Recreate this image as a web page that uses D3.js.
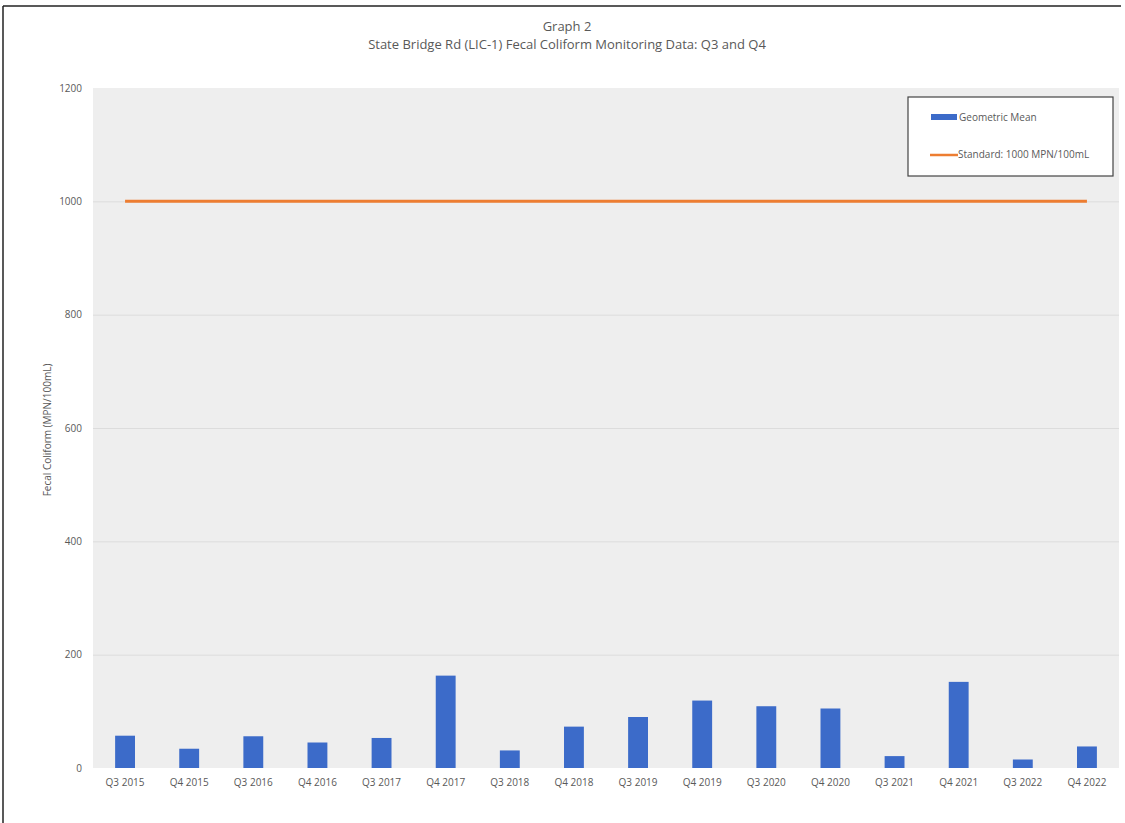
<!DOCTYPE html>
<html>
<head>
<meta charset="utf-8">
<script src="https://cdn.jsdelivr.net/npm/d3@7"></script>
<style>
  body { margin: 0; background: #fff; }
  text { font-family: "Open Sans", "Noto Sans", sans-serif; fill: #595959; }
</style>
</head>
<body>
<svg id="chart"></svg>
<script>
// Chart data
const quarters = ["Q3 2015", "Q4 2015", "Q3 2016", "Q4 2016", "Q3 2017", "Q4 2017", "Q3 2018", "Q4 2018",
                  "Q3 2019", "Q4 2019", "Q3 2020", "Q4 2020", "Q3 2021", "Q4 2021", "Q3 2022", "Q4 2022"];
const geometric_mean = [57, 34, 56, 45, 53, 163, 31, 73, 90, 119, 109, 105, 21, 152, 15, 38];
const standard_value = 1000;
const y_ticks = [0, 200, 400, 600, 800, 1000, 1200];

const width = 1125, height = 823;
const margins = { top: 88, right: 6, bottom: 55, left: 93 };

const svg = d3.select("#chart")
    .attr("width", width)
    .attr("height", height);

// Outer frame (top and left edges visible)
svg.append("line").attr("x1", 3).attr("x2", 1121).attr("y1", 6).attr("y2", 6)
    .style("stroke", "#222").style("stroke-width", 1.5);
svg.append("line").attr("x1", 3).attr("x2", 3).attr("y1", 6).attr("y2", height)
    .style("stroke", "#222").style("stroke-width", 1.5);

// Scales
const x_scale = d3.scaleBand()
    .domain(quarters)
    .range([margins.left, width - margins.right])
    .paddingInner(0.69)
    .paddingOuter(0.345);
const y_scale = d3.scaleLinear()
    .domain([0, 1200])
    .range([height - margins.bottom, margins.top]);

// Plot area background
svg.append("rect")
    .attr("x", margins.left)
    .attr("y", y_scale(1200))
    .attr("width", width - margins.right - margins.left)
    .attr("height", y_scale(0) - y_scale(1200))
    .style("fill", "#eeeeee");

// Gridlines
svg.append("g")
    .attr("transform", `translate(${margins.left}, 0)`)
    .call(d3.axisLeft(y_scale).tickValues(y_ticks.filter(d => d > 0 && d < 1200))
        .tickSize(-(width - margins.right - margins.left)).tickFormat(""))
    .call(g => g.select(".domain").remove())
    .call(g => g.selectAll("line").style("stroke", "#dcdcdc").style("stroke-width", 1));

// Y axis labels
svg.append("g")
    .attr("transform", `translate(${margins.left - 11}, 0)`)
    .call(d3.axisLeft(y_scale).tickValues(y_ticks).tickSize(0).tickPadding(0).tickFormat(d3.format("d")))
    .call(g => g.select(".domain").remove())
    .call(g => g.selectAll("text").style("font-size", "10px").style("fill", "#595959"));

// X axis labels
svg.append("g")
    .attr("transform", `translate(0, ${y_scale(0)})`)
    .call(d3.axisBottom(x_scale).tickSize(0).tickPadding(11))
    .call(g => g.select(".domain").remove())
    .call(g => g.selectAll("text").style("font-size", "10px").style("fill", "#595959"));

// Bars
svg.selectAll(".bar")
    .data(quarters.map((q, i) => ({ quarter: q, value: geometric_mean[i] })))
    .join("rect")
    .attr("class", "bar")
    .attr("x", d => x_scale(d.quarter))
    .attr("y", d => y_scale(d.value))
    .attr("width", x_scale.bandwidth())
    .attr("height", d => y_scale(0) - y_scale(d.value))
    .style("fill", "#3c6bc9");

// Standard line
const line = d3.line()
    .x(d => x_scale(d) + x_scale.bandwidth() / 2)
    .y(() => y_scale(standard_value));
svg.append("path")
    .datum(quarters)
    .attr("d", line)
    .style("fill", "none")
    .style("stroke", "#ed7d31")
    .style("stroke-width", 3);

// Titles
svg.append("text").attr("x", 567).attr("y", 31).attr("text-anchor", "middle")
    .style("font-size", "13px").text("Graph 2");
svg.append("text").attr("x", 567).attr("y", 49).attr("text-anchor", "middle")
    .style("font-size", "13px").text("State Bridge Rd (LIC-1) Fecal Coliform Monitoring Data: Q3 and Q4");

// Y axis title
svg.append("text")
    .attr("transform", `translate(51, ${y_scale(600) + 2}) rotate(-90)`)
    .attr("text-anchor", "middle")
    .style("font-size", "10px")
    .text("Fecal Coliform (MPN/100mL)");

// Legend
const legend = svg.append("g").attr("transform", "translate(908, 97)");
legend.append("rect")
    .attr("width", 205).attr("height", 79)
    .style("fill", "#fff").style("stroke", "#444").style("stroke-width", 1.2);
legend.append("rect")
    .attr("x", 23).attr("y", 17).attr("width", 26).attr("height", 6)
    .style("fill", "#3c6bc9");
legend.append("text").attr("x", 51).attr("y", 24)
    .style("font-size", "10px").text("Geometric Mean");
legend.append("line")
    .attr("x1", 22).attr("x2", 50).attr("y1", 58).attr("y2", 58)
    .style("stroke", "#ed7d31").style("stroke-width", 2.5);
legend.append("text").attr("x", 50).attr("y", 61)
    .style("font-size", "10px").text("Standard: 1000 MPN/100mL");
</script>
</body>
</html>
